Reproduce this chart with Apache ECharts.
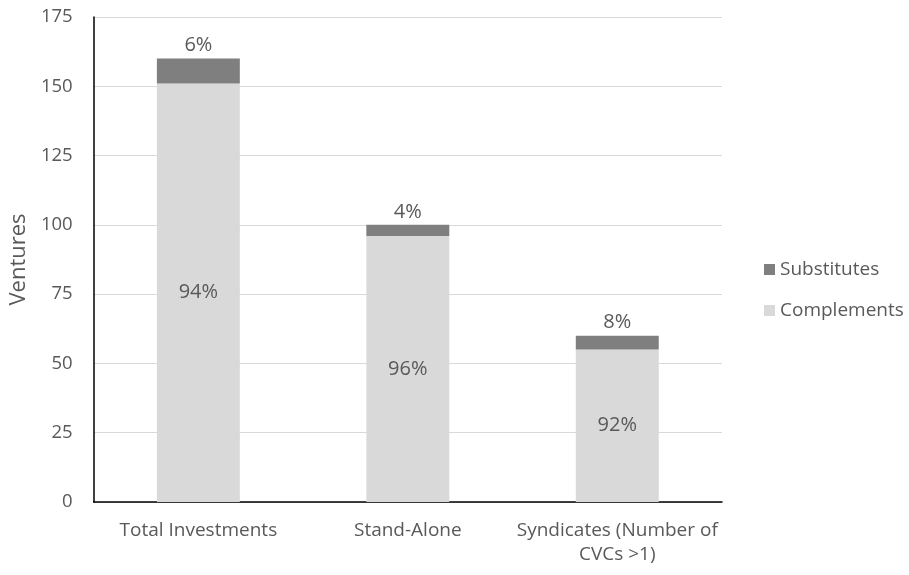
<!DOCTYPE html>
<html>
<head>
<meta charset="utf-8">
<script src="https://cdn.jsdelivr.net/npm/echarts@6/dist/echarts.min.js"></script>
<style>html,body{margin:0;padding:0;background:#fff}#c{width:909px;height:575px}</style>
</head>
<body>
<div id="c"></div>
<script>
var categories = ['Total Investments', 'Stand-Alone', 'Syndicates (Number of\nCVCs >1)'];
var complements = [151, 96, 55];
var substitutes = [9, 4, 5];
var complementLabels = ['94%', '96%', '92%'];
var substituteLabels = ['6%', '4%', '8%'];
var yTicks = [0, 25, 50, 75, 100, 125, 150, 175];

var font = '"Open Sans", Lato, sans-serif';
var txt = '#595959';
var chart = echarts.init(document.getElementById('c'), null, {renderer: 'canvas'});
chart.setOption({
  animation: false,
  textStyle: {fontFamily: font},
  grid: {left: 93, right: 187, top: 17, bottom: 73, containLabel: false},
  legend: {
    orient: 'vertical', left: 759, top: 255, itemWidth: 11, itemHeight: 11, itemGap: 22,
    icon: 'rect',
    textStyle: {color: txt, fontSize: 19, fontFamily: font},
    data: ['Substitutes', 'Complements']
  },
  xAxis: {
    type: 'category', data: categories,
    axisLine: {lineStyle: {color: '#000', width: 1.5}},
    axisTick: {show: false},
    axisLabel: {color: txt, fontSize: 19, margin: 17, lineHeight: 24, interval: 0, fontFamily: font}
  },
  yAxis: {
    type: 'value', min: yTicks[0], max: yTicks[yTicks.length - 1], interval: 25,
    name: 'Ventures', nameLocation: 'middle', nameGap: 62, nameRotate: 90,
    nameTextStyle: {color: txt, fontSize: 22, fontFamily: font},
    axisLine: {show: true, lineStyle: {color: '#000', width: 1.5}},
    axisTick: {show: false},
    axisLabel: {color: txt, fontSize: 18.5, margin: 21, fontFamily: font},
    splitLine: {lineStyle: {color: '#d9d9d9', width: 1}}
  },
  series: [
    {
      name: 'Complements', type: 'bar', stack: 's', barWidth: '39.6%',
      data: complements,
      itemStyle: {color: '#d9d9d9'},
      label: {show: true, position: 'inside', color: txt, fontSize: 20, fontFamily: font,
        formatter: function (p) { return complementLabels[p.dataIndex]; }}
    },
    {
      name: 'Substitutes', type: 'bar', stack: 's', barWidth: '39.6%',
      data: substitutes,
      itemStyle: {color: '#7f7f7f'},
      label: {show: true, position: 'top', distance: 3, color: txt, fontSize: 20, fontFamily: font,
        formatter: function (p) { return substituteLabels[p.dataIndex]; }}
    }
  ]
});
</script>
</body>
</html>
